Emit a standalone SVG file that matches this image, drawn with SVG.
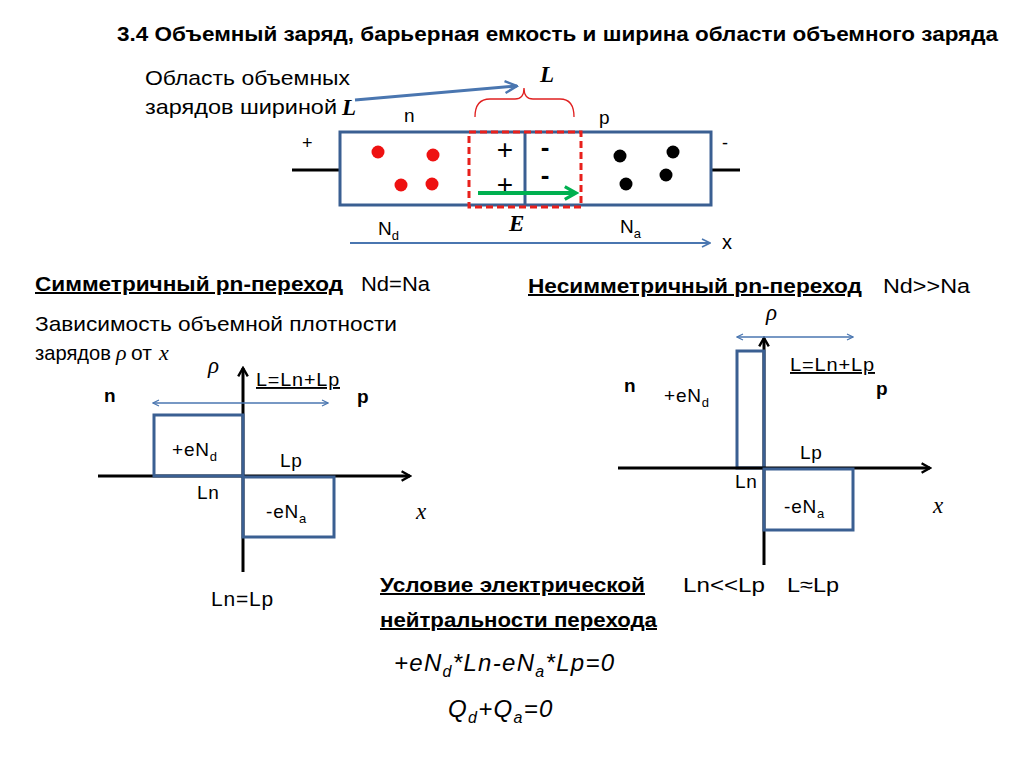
<svg xmlns="http://www.w3.org/2000/svg" width="1024" height="767" viewBox="0 0 1024 767">
<defs>
<style>
text{font-family:"Liberation Sans",Arial,sans-serif;fill:#000}
.b{font-weight:bold}
.u{text-decoration:underline}
.m{font-family:"Liberation Serif","Times New Roman",serif;font-style:italic}
.lb{font-size:19px;letter-spacing:0.8px}
.blue{stroke:#4a76b0;fill:none}
.box{stroke:#3a5f92;fill:none;stroke-width:3}
.ax{stroke:#000;stroke-width:3;fill:none}
</style>
<marker id="ab" viewBox="0 0 10 10" refX="9" refY="5" markerWidth="5" markerHeight="5" orient="auto-start-reverse"><path d="M1,1 L9,5 L1,9" fill="none" stroke="#4a76b0" stroke-width="1.6"/></marker>
<marker id="ak" viewBox="0 0 10 10" refX="8" refY="5" markerWidth="4" markerHeight="4" orient="auto"><path d="M1,1 L8,5 L1,9" fill="none" stroke="#000" stroke-width="2"/></marker>
<marker id="ag" viewBox="0 0 10 10" refX="8" refY="5" markerWidth="4" markerHeight="4" orient="auto"><path d="M1,1 L8,5 L1,9" fill="none" stroke="#00b050" stroke-width="2"/></marker>
</defs>
<rect width="1024" height="767" fill="#fff"/>

<text x="117" y="41" class="b" font-size="21" textLength="881" lengthAdjust="spacingAndGlyphs">3.4 Объемный заряд, барьерная емкость и ширина области объемного заряда</text>

<g id="top-diagram">
<text x="145" y="85" font-size="21" textLength="205" lengthAdjust="spacingAndGlyphs">Область объемных</text>
<text x="145" y="114" font-size="21" textLength="192" lengthAdjust="spacingAndGlyphs">зарядов шириной</text>
<text x="342" y="115" class="m" font-weight="bold" font-size="23">L</text>
<line x1="355" y1="100" x2="517" y2="86" class="blue" stroke-width="3" marker-end="url(#ab)"/>
<path d="M475,117 Q475,99 490,99 L515,99 Q524,99 524,88 Q524,99 533,99 L560,99 Q574,99 574,117" fill="none" stroke="#e02020" stroke-width="1.3"/>
<text x="540" y="82" class="m" font-weight="bold" font-size="23">L</text>
<text x="404" y="122" font-size="19">n</text>
<text x="599" y="124" font-size="19">p</text>
<text x="302" y="149" font-size="18">+</text>
<text x="722" y="149" font-size="18">-</text>
<line x1="292" y1="170" x2="340" y2="170" stroke="#000" stroke-width="3"/>
<line x1="711" y1="170" x2="740" y2="170" stroke="#000" stroke-width="3"/>
<rect x="340" y="132" width="371" height="73" class="box"/>
<line x1="525" y1="132" x2="525" y2="205" stroke="#3a5f92" stroke-width="3"/>
<rect x="469" y="132" width="112" height="75" fill="none" stroke="#e8201c" stroke-width="3" stroke-dasharray="7,4"/>
<g fill="#ee1111"><circle cx="378" cy="152" r="6.5"/><circle cx="433" cy="155" r="6.5"/><circle cx="401" cy="185" r="6.5"/><circle cx="432" cy="184" r="6.5"/></g>
<g fill="#000"><circle cx="620" cy="156" r="6.5"/><circle cx="673" cy="152" r="6.5"/><circle cx="626" cy="184" r="6.5"/><circle cx="666" cy="175" r="6.5"/></g>
<text x="505" y="159" font-size="28" text-anchor="middle">+</text>
<text x="505" y="194" font-size="28" text-anchor="middle">+</text>
<text x="545" y="156" font-size="26" text-anchor="middle" font-weight="bold">-</text>
<text x="545" y="184" font-size="26" text-anchor="middle" font-weight="bold">-</text>
<line x1="478" y1="193" x2="576" y2="193" stroke="#00b050" stroke-width="4" marker-end="url(#ag)"/>
<text x="509" y="231" class="m" font-weight="bold" font-size="23">E</text>
<text x="378" y="235" font-size="19">N<tspan font-size="13" dy="5">d</tspan></text>
<text x="620" y="233" font-size="19">N<tspan font-size="13" dy="5">a</tspan></text>
<line x1="350" y1="243" x2="710" y2="243" class="blue" stroke-width="2" marker-end="url(#ab)"/>
<text x="722" y="249" font-size="20">x</text>
</g>

<g id="symmetric">
<text x="35" y="291" class="b u" font-size="20" textLength="308" lengthAdjust="spacingAndGlyphs">Симметричный pn-переход</text>
<text x="361" y="291" font-size="20" textLength="69" lengthAdjust="spacingAndGlyphs">Nd=Na</text>
<text x="35" y="331" font-size="21" textLength="362" lengthAdjust="spacingAndGlyphs">Зависимость объемной плотности</text>
<text x="35" y="360" font-size="21" textLength="76" lengthAdjust="spacingAndGlyphs">зарядов</text>
<text x="116" y="360" class="m" font-size="22">ρ</text>
<text x="131" y="360" font-size="21">от</text>
<text x="159" y="360" class="m" font-size="22">x</text>
<text x="208" y="373" class="m" font-size="23">ρ</text>
<line x1="243" y1="572" x2="243" y2="368" class="ax" marker-end="url(#ak)"/>
<line x1="98" y1="476" x2="410" y2="476" class="ax" marker-end="url(#ak)"/>
<text x="256" y="386" class="u lb" textLength="84" lengthAdjust="spacingAndGlyphs">L=Ln+Lp</text>
<text x="104" y="402" class="b" font-size="19">n</text>
<text x="357" y="403" class="b" font-size="19">p</text>
<line x1="153" y1="403" x2="328" y2="403" class="blue" stroke-width="1.5" marker-start="url(#ab)" marker-end="url(#ab)"/>
<rect x="154" y="415" width="89" height="61" class="box"/>
<rect x="243" y="477" width="91" height="60" class="box"/>
<text x="172" y="456" class="lb">+eN<tspan font-size="13" dy="5">d</tspan></text>
<text x="266" y="518" class="lb">-eN<tspan font-size="13" dy="5">a</tspan></text>
<text x="280" y="467" class="lb">Lp</text>
<text x="197" y="499" class="lb">Ln</text>
<text x="416" y="519" class="m" font-size="23">x</text>
<text x="211" y="606" font-size="21" letter-spacing="0.8">Ln=Lp</text>
</g>

<g id="asymmetric">
<text x="528" y="293" class="b u" font-size="20" textLength="334" lengthAdjust="spacingAndGlyphs">Несимметричный pn-переход</text>
<text x="883" y="293" font-size="20" textLength="87" lengthAdjust="spacingAndGlyphs">Nd&gt;&gt;Na</text>
<text x="766" y="320" class="m" font-size="23">ρ</text>
<line x1="764" y1="565" x2="764" y2="338" class="ax" marker-end="url(#ak)"/>
<line x1="737" y1="337" x2="853" y2="337" class="blue" stroke-width="1.5" marker-start="url(#ab)" marker-end="url(#ab)"/>
<rect x="737" y="351" width="27" height="117" class="box"/>
<text x="790" y="371" class="u lb" textLength="85" lengthAdjust="spacingAndGlyphs">L=Ln+Lp</text>
<text x="624" y="392" class="b" font-size="19">n</text>
<text x="876" y="395" class="b" font-size="19">p</text>
<text x="664" y="402" class="lb">+eN<tspan font-size="13" dy="5">d</tspan></text>
<line x1="618" y1="468" x2="930" y2="468" class="ax" marker-end="url(#ak)"/>
<rect x="764" y="469" width="89" height="61" class="box"/>
<text x="800" y="459" class="lb">Lp</text>
<text x="735" y="488" class="lb">Ln</text>
<text x="784" y="513" class="lb">-eN<tspan font-size="13" dy="5">a</tspan></text>
<text x="933" y="513" class="m" font-size="23">x</text>
<text x="683" y="592" font-size="21" textLength="82" lengthAdjust="spacingAndGlyphs">Ln&lt;&lt;Lp</text>
<text x="787" y="592" font-size="21" textLength="52" lengthAdjust="spacingAndGlyphs">L≈Lp</text>
</g>

<g id="neutrality">
<text x="380" y="592" class="b u" font-size="20" textLength="265" lengthAdjust="spacingAndGlyphs">Условие электрической</text>
<text x="380" y="627" class="b u" font-size="20" textLength="277" lengthAdjust="spacingAndGlyphs">нейтральности перехода</text>
<text x="394" y="671" font-size="24" font-style="italic" letter-spacing="1.3">+eN<tspan font-size="16" dy="6">d</tspan><tspan dy="-6">*Ln-eN</tspan><tspan font-size="16" dy="6">a</tspan><tspan dy="-6">*Lp=0</tspan></text>
<text x="448" y="717" font-size="24" font-style="italic" letter-spacing="1.3">Q<tspan font-size="16" dy="6">d</tspan><tspan dy="-6">+Q</tspan><tspan font-size="16" dy="6">a</tspan><tspan dy="-6">=0</tspan></text>
</g>
</svg>
